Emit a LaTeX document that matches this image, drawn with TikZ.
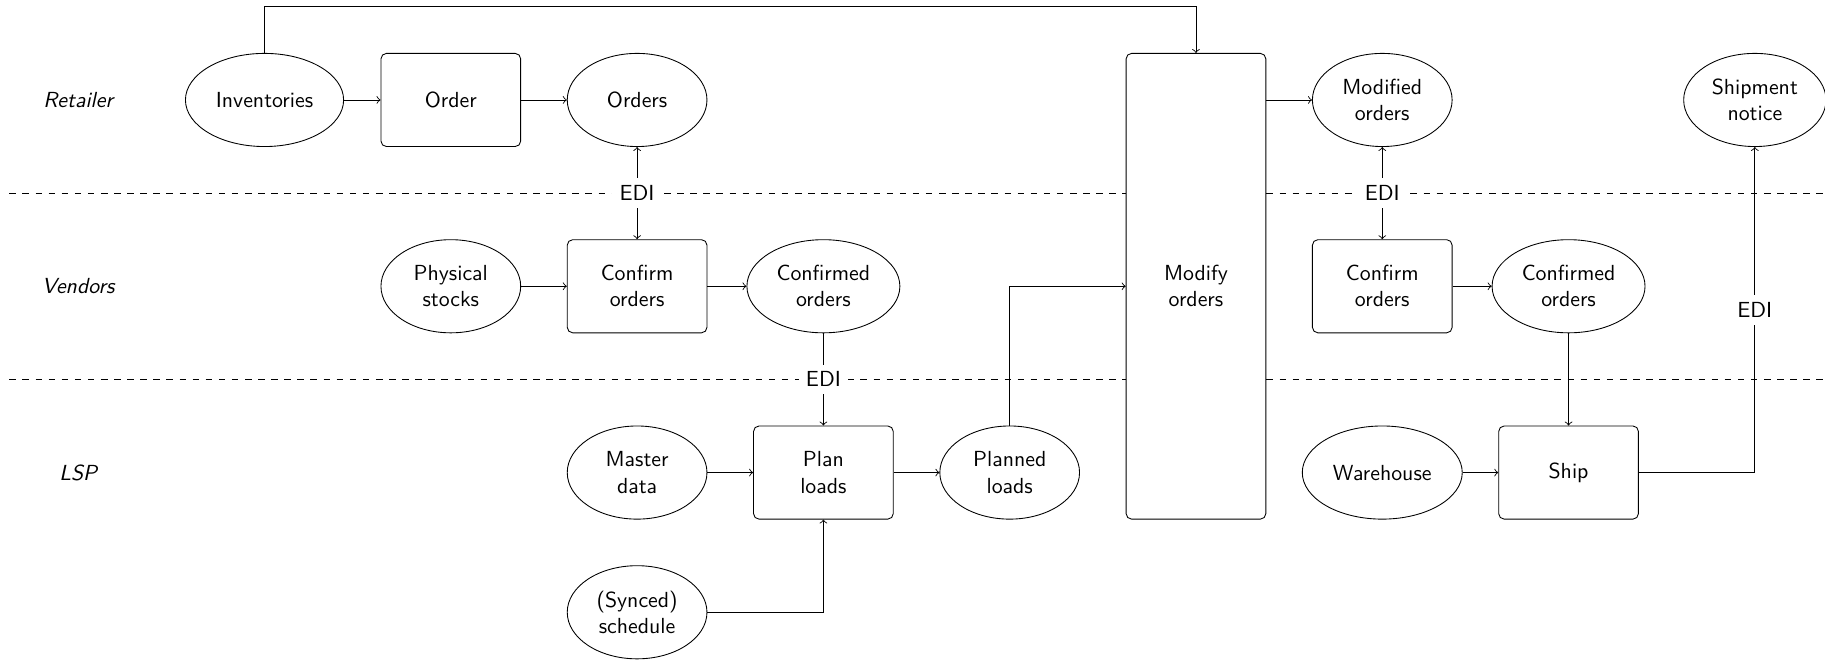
\documentclass[tikz,border=0pt]{standalone}
\usepackage{tikz}
\usetikzlibrary{arrows,positioning,shapes,shapes.geometric}

\begin{document}
\begin{tikzpicture}[
		> = to, % arrow head style
		node distance = 3cm, % distance between nodes
		font = \sffamily,
		thin % line style
	]
	
	\tikzstyle{data}=[
	ellipse,
	draw = black,
	fill = white,
	align = center,
	minimum width = 2.25cm,
	minimum height = 1.5cm
	]
	\tikzstyle{task}=[
	rectangle,
	draw = black,
	fill = white,
	rounded corners = 2.5pt,
	align = center,
	minimum width = 2.25cm,
	minimum height = 1.5cm
	]
	\tikzstyle{lane}=[font = \sffamily\itshape]
	\tikzstyle{edi}=[fill = white]
	
	\useasboundingbox (-1.26,1.61) rectangle (28.13,-9.05);
	
	% lane separators
	\draw[dashed] (-1.11,-1.5) -- (28.1,-1.5);
	\draw[dashed] (-1.11,-4.5) -- (28.1,-4.5);
	
	\node[lane] (retailer) at (0,0) {Retailer};
	\node[lane, below of = retailer] (vendors) {Vendors};
	\node[lane, below of = vendors] (lsp) {LSP};
	
	\node[data, right of = retailer] (inv) {Inventories};
	\node[task, right of = inv] (order) {Order};
	\node[data, right of = order] (orders) {Orders};
	
	\node[data, below of = order] (phys) {Physical\\stocks};
	\node[task, right of = phys] (conf) {Confirm\\orders};
	\node[data, right of = conf] (confd) {Confirmed\\orders};
	
	\node[data, below of = conf] (master) {Master\\data};
	\node[task, right of = master] (plan) {Plan\\loads};
	\node[data, right of = plan] (planned) {Planned\\loads};
	\node[data, below of = master, node distance = 2.25cm] (synced) {(Synced)\\schedule};
	
	\node[task, right of = confd, xshift = 3cm, minimum height = 7.5cm] (modify) {Modify\\orders};
	
	\node[task, right of = modify] (conf2) {Confirm\\orders};
	\node[data, above of = conf2] (modified) {Modified\\orders};
	\node[data, right of = conf2] (confd2) {Confirmed\\orders};
	\node[task, below of = confd2] (ship) {Ship};
	\node[data, left of = ship] (wh) {Warehouse};
	\node[data, right of = confd2, yshift = 3cm] (notice) {Shipment\\notice};
	
	\draw[->] (inv) -- (order);
	\draw[->] (order) -- (orders);
	\draw[->] (phys) -- (conf);
	\draw[->] (conf) -- (confd);
	\draw[->] (master) -- (plan);
	\draw[->] (plan) -- (planned);
	\draw[->] (synced) -| (plan);
	\draw[->] (conf2) -- (confd2);
	\draw[->] (wh) -- (ship);
	\draw[->] (confd2) -- (ship);
	
	\draw[<->] (orders) -- node[edi] {EDI} (conf);
	\draw[<->] (modified) -- node[edi] {EDI} (conf2);
	\draw[->] (confd) -- node[edi] {EDI} (plan);
	\draw[->] (ship) -| node[edi, pos = 0.75] {EDI} (notice);
	
	\draw[->] (planned) |- (modify);
	\draw[->] (modify.east |- modified) -- (modified);
	\draw[->] (inv.north) -- ++(0,0.75) -| (modify.north);
\end{tikzpicture}
\end{document}
